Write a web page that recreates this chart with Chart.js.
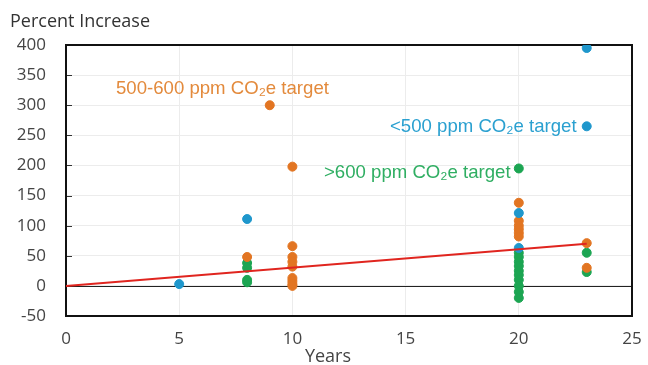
<!DOCTYPE html>
<html>
<head>
<meta charset="utf-8">
<script src="https://cdn.jsdelivr.net/npm/chart.js@4"></script>
<style>
  body { margin: 0; background: #fff; }
  #wrap { width: 648px; height: 365px; }
</style>
</head>
<body>
<div id="wrap"><canvas id="chart"></canvas></div>
<script>
'use strict';

// ***** DATA *****
const yearTicks = [0, 5, 10, 15, 20, 25];
const percentTicks = [-50, 0, 50, 100, 150, 200, 250, 300, 350, 400];

const lowYears = [5, 8, 20, 20, 23, 23];
const lowValues = [3, 111, 121, 63, 395, 265];

const midYears = [8, 9, 10, 10, 10, 10, 10, 10, 10, 10, 10, 20, 20, 20, 20, 20, 20, 23, 23];
const midValues = [48, 300, 198, 66, 48, 40, 32, 13, 8, 3, 0, 138, 108, 100, 94, 88, 82, 71, 30];

const highYears = [8, 8, 8, 8, 20, 20, 20, 20, 20, 20, 20, 20, 20, 20, 20, 23, 23];
const highValues = [38, 30, 10, 6, 195, 55, 48, 40, 33, 25, 18, 10, 0, -10, -20, 55, 23];

const trendYears = [0, 23];
const trendValues = [0, 70];

const labels = [
  { text: '500-600 ppm CO\u2082e target', x: 116, y: 89, color: '#e38a3c' },
  { text: '<500 ppm CO\u2082e target', x: 390, y: 127, color: '#2aa0d0' },
  { text: '>600 ppm CO\u2082e target', x: 324, y: 173, color: '#2fae62' }
];

const FONT = '"Open Sans"';

function toPoints(xs, ys) {
  return xs.map((x, i) => ({ x: x, y: ys[i] }));
}

// ***** PLUGIN: frame, titles, notes *****
const decorations = {
  id: 'decorations',
  beforeDatasetsDraw(chart) {
    const ctx = chart.ctx;
    const a = chart.chartArea;
    const y = chart.scales.y;
    ctx.save();
    // small inside ticks on the left
    ctx.strokeStyle = '#333';
    ctx.lineWidth = 1;
    percentTicks.forEach(v => {
      const py = Math.round(y.getPixelForValue(v)) + 0.5;
      ctx.beginPath();
      ctx.moveTo(a.left, py);
      ctx.lineTo(a.left + 6, py);
      ctx.stroke();
    });
    // zero line
    const zy = Math.round(y.getPixelForValue(0)) + 0.5;
    ctx.strokeStyle = '#222';
    ctx.beginPath();
    ctx.moveTo(a.left, zy);
    ctx.lineTo(a.right, zy);
    ctx.stroke();
    // frame
    ctx.strokeStyle = '#111';
    ctx.lineWidth = 2;
    ctx.strokeRect(a.left, a.top, a.right - a.left, a.bottom - a.top);
    ctx.restore();
  },
  afterDraw(chart) {
    const ctx = chart.ctx;
    ctx.save();
    ctx.textBaseline = 'middle';
    ctx.textAlign = 'left';
    ctx.fillStyle = '#333';
    ctx.font = '18px ' + FONT;
    ctx.fillText('Percent Increase', 10, 22);
    ctx.textAlign = 'center';
    ctx.fillStyle = '#444';
    ctx.font = '18px ' + FONT;
    ctx.fillText('Years', 328, 357);
    ctx.textAlign = 'left';
    ctx.font = '18.6px "Liberation Sans"';
    labels.forEach(l => {
      ctx.fillStyle = l.color;
      ctx.fillText(l.text, l.x, l.y);
    });
    ctx.restore();
  }
};

// ***** CHART *****
const ctx = document.getElementById('chart').getContext('2d');

let myChart = new Chart(ctx, { //eslint-disable-line
  type: 'scatter',
  data: {
    datasets: [
      {
        type: 'line',
        data: toPoints(trendYears, trendValues),
        borderColor: '#e0251f',
        borderWidth: 2,
        pointRadius: 0,
        fill: false
      },
      {
        data: toPoints(lowYears, lowValues),
        backgroundColor: '#1f97cc',
        borderColor: '#1f97cc',
        pointRadius: 4.5
      },
      {
        data: toPoints(midYears, midValues),
        backgroundColor: '#e27522',
        borderColor: '#e27522',
        pointRadius: 4.5
      },
      {
        data: toPoints(highYears, highValues),
        backgroundColor: '#1ca552',
        borderColor: '#1ca552',
        pointRadius: 4.5
      }
    ]
  },
  options: {
    responsive: true,
    maintainAspectRatio: false,
    animation: false,
    layout: { padding: { top: 45, right: 16, left: 0, bottom: 0 } },
    plugins: {
      legend: { display: false },
      tooltip: { enabled: false }
    },
    scales: {
      x: {
        type: 'linear',
        min: 0,
        max: 25,
        afterBuildTicks: s => { s.ticks = yearTicks.map(v => ({ value: v })); },
        afterFit: s => { s.height = 49; s.paddingLeft = 0; s.paddingRight = 0; },
        grid: { color: '#ececec', drawTicks: false },
        border: { display: false },
        ticks: { color: '#444', font: { family: FONT, size: 17 }, padding: 13 }
      },
      y: {
        min: -50,
        max: 400,
        afterBuildTicks: s => { s.ticks = percentTicks.map(v => ({ value: v })); },
        afterFit: s => { s.width = 66; s.paddingTop = 0; s.paddingBottom = 0; },
        grid: { color: '#ececec', drawTicks: false },
        border: { display: false },
        ticks: { color: '#444', font: { family: FONT, size: 17 }, padding: 20 }
      }
    }
  },
  plugins: [decorations]
});
</script>
</body>
</html>
